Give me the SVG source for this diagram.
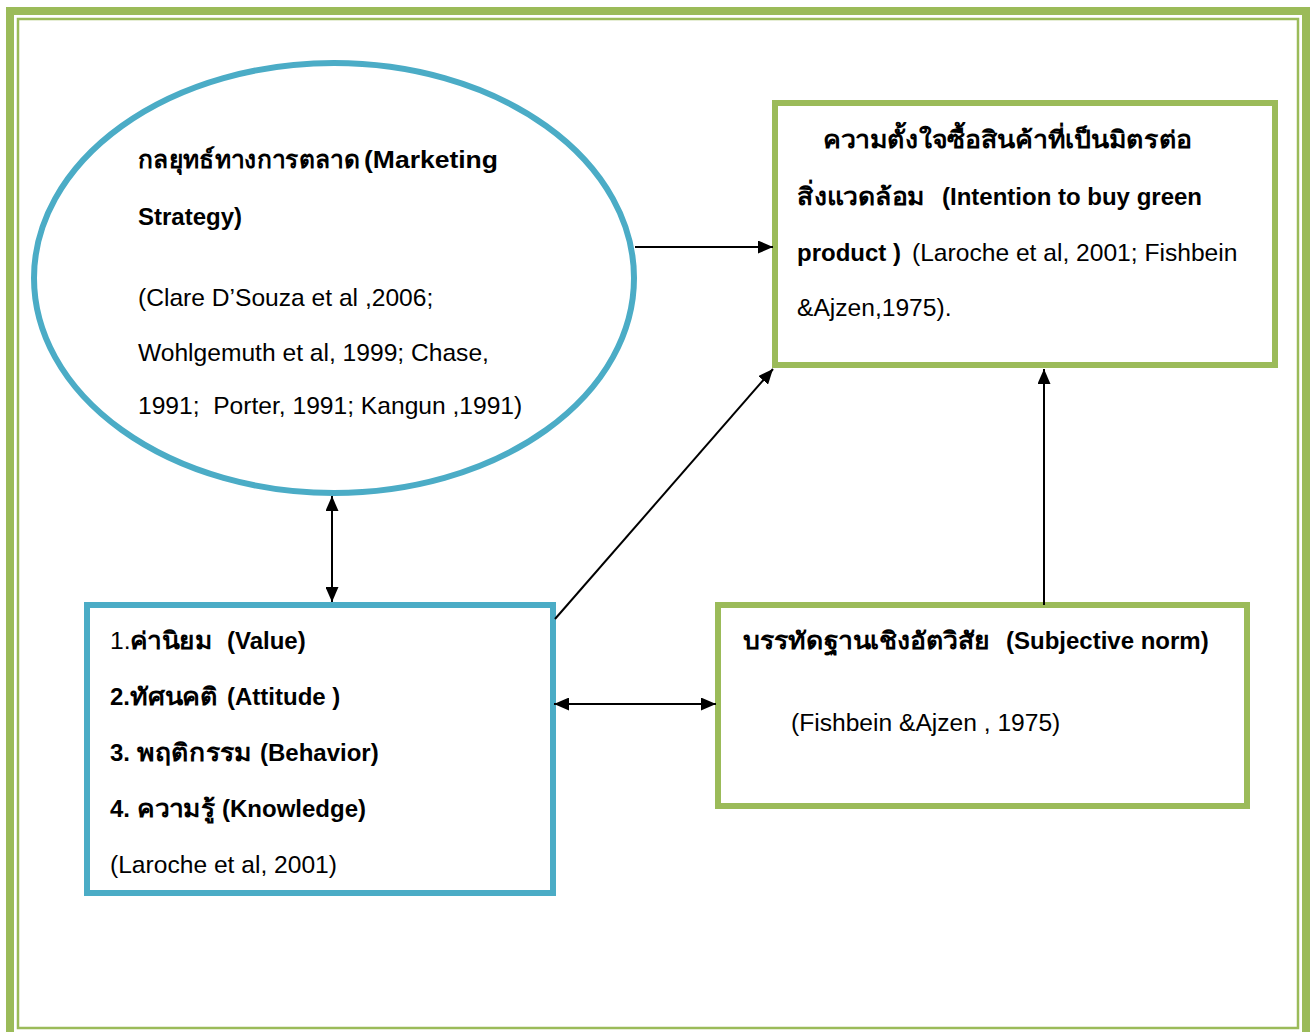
<svg xmlns="http://www.w3.org/2000/svg" width="1314" height="1032" viewBox="0 0 1314 1032">
<style>
text{font-family:"Liberation Sans","Noto Sans",Arial,sans-serif;font-size:24.6px;fill:#000;white-space:pre}
.b{font-weight:bold;font-size:24px}
.g{fill:#fff;stroke:#9BBB59;stroke-width:6}
.bl{fill:#fff;stroke:#4BACC6;stroke-width:6}
.c{stroke:#000;stroke-width:2;fill:none}
</style>
<defs>
<marker id="ah" markerUnits="userSpaceOnUse" markerWidth="15" markerHeight="13" refX="15" refY="6.5" orient="auto-start-reverse">
<path d="M0,0 L15,6.5 L0,13 z" fill="#000"/>
</marker>
</defs>
<rect width="1314" height="1032" fill="#fff"/>
<g id="frame">
<rect x="10" y="11" width="1296" height="1030" fill="none" stroke="#9BBB59" stroke-width="8"/>
<rect x="18" y="19" width="1280" height="1009" fill="none" stroke="#9BBB59" stroke-width="2.5"/>
</g>
<g id="marketing">
<ellipse cx="334" cy="278" rx="300" ry="215" class="bl" stroke-width="5"/>
<text y="168" class="b"><tspan x="138" textLength="222" lengthAdjust="spacingAndGlyphs">กลยุทธ์ทางการตลาด</tspan><tspan x="364" textLength="134" lengthAdjust="spacingAndGlyphs">(Marketing</tspan></text>
<text x="138" y="225" class="b">Strategy)</text>
<text x="138" y="306">(Clare D’Souza et al ,2006;</text>
<text x="138" y="361">Wohlgemuth et al, 1999; Chase,</text>
<text x="138" y="414">1991;  Porter, 1991; Kangun ,1991)</text>
</g>
<g id="intention">
<rect x="775" y="103" width="500" height="262" class="g"/>
<text y="148" class="b"><tspan x="823" textLength="369" lengthAdjust="spacingAndGlyphs">ความตั้งใจซื้อสินค้าที่เป็นมิตรต่อ</tspan></text>
<text y="205" class="b"><tspan x="797" textLength="128" lengthAdjust="spacingAndGlyphs">สิ่งแวดล้อม</tspan><tspan x="942">(Intention to buy green</tspan></text>
<text y="261"><tspan x="797" class="b">product )</tspan><tspan x="912">(Laroche et al, 2001; Fishbein</tspan></text>
<text x="797" y="316">&amp;Ajzen,1975).</text>
</g>
<g id="factors">
<rect x="87" y="605" width="466" height="288" class="bl"/>
<text y="649"><tspan x="110">1.</tspan><tspan class="b" x="130" textLength="82" lengthAdjust="spacingAndGlyphs">ค่านิยม</tspan><tspan class="b" x="227">(Value)</tspan></text>
<text y="705" class="b"><tspan x="110">2.</tspan><tspan x="130" textLength="88" lengthAdjust="spacingAndGlyphs">ทัศนคติ</tspan><tspan x="227">(Attitude )</tspan></text>
<text y="761" class="b"><tspan x="110">3.</tspan><tspan x="137" textLength="115" lengthAdjust="spacingAndGlyphs">พฤติกรรม</tspan><tspan x="260">(Behavior)</tspan></text>
<text y="817" class="b"><tspan x="110">4.</tspan><tspan x="137" textLength="78" lengthAdjust="spacingAndGlyphs">ความรู้</tspan><tspan x="222">(Knowledge)</tspan></text>
<text x="110" y="873">(Laroche et al, 2001)</text>
</g>
<g id="norm">
<rect x="718" y="605" width="529" height="201" class="g"/>
<text y="649" class="b"><tspan x="743" textLength="247" lengthAdjust="spacingAndGlyphs">บรรทัดฐานเชิงอัตวิสัย</tspan><tspan x="1006">(Subjective norm)</tspan></text>
<text x="791" y="731">(Fishbein &amp;Ajzen , 1975)</text>
</g>
<g id="connectors">
<line x1="635" y1="247" x2="773" y2="247" class="c" marker-end="url(#ah)"/>
<line x1="332" y1="496" x2="332" y2="602" class="c" marker-start="url(#ah)" marker-end="url(#ah)"/>
<line x1="555" y1="619" x2="773" y2="369" class="c" marker-end="url(#ah)"/>
<line x1="1044" y1="605" x2="1044" y2="369" class="c" marker-end="url(#ah)"/>
<line x1="554" y1="704" x2="716" y2="704" class="c" marker-start="url(#ah)" marker-end="url(#ah)"/>
</g>
</svg>
